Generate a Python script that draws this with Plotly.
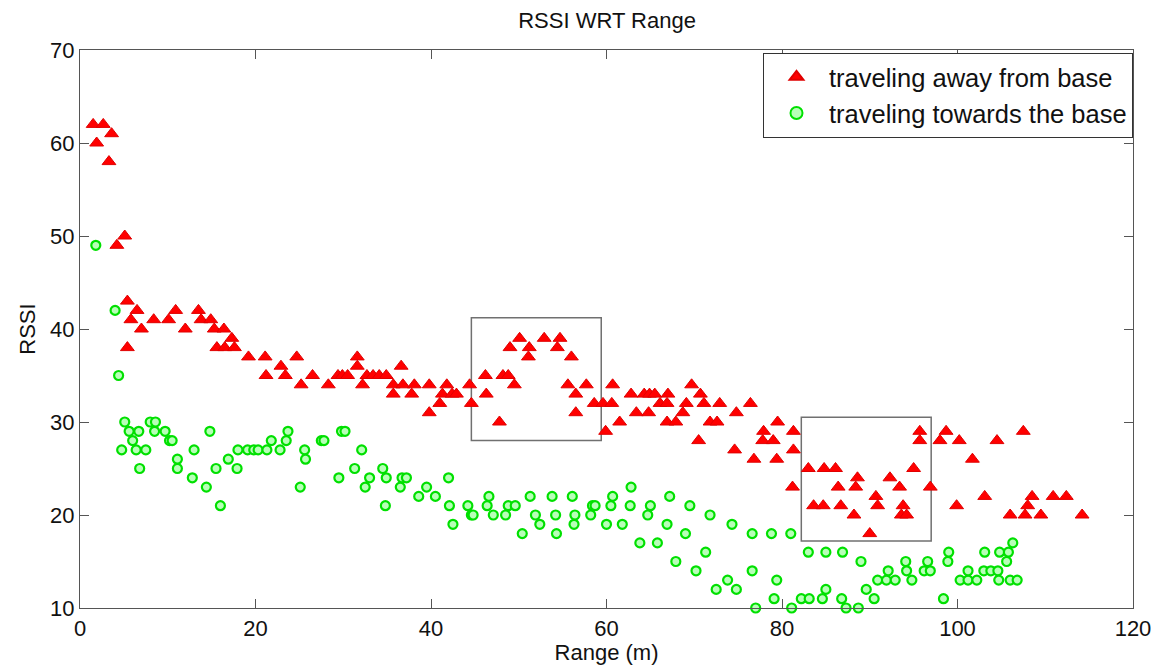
import plotly.graph_objects as go

# traveling away from base (red triangles)
away_x = [1.5, 2.65, 3.6, 1.9, 3.3, 5.1, 4.2, 5.4, 6.5, 5.8, 7.0, 8.4, 10.1, 10.9, 12.0, 13.5, 13.8, 14.9,
          15.3, 16.4, 17.3, 15.6, 16.5, 17.6, 5.4, 19.2, 21.1, 21.2, 22.9, 23.4, 24.7, 25.2, 26.5, 28.3,
          29.4, 29.9, 30.5, 31.6, 31.6, 32.2, 32.7, 33.4, 34.1, 34.9, 36.6, 35.7, 36.8, 35.7, 37.8, 38.1,
          39.8, 39.8, 41.0, 41.8, 41.3, 42.4, 42.9, 44.4, 44.6, 46.2, 46.3, 47.8, 48.2, 48.8, 49.5, 49.0,
          50.1, 51.2, 51.1, 52.9, 54.7, 54.4, 56.0, 55.6, 56.5, 57.7, 56.5, 58.6, 59.6, 60.6, 60.7, 59.9,
          61.5, 62.8, 63.4, 64.8, 64.3, 64.9, 65.5, 66.1, 67.0, 66.9, 69.7, 70.7, 69.1, 71.1, 72.9, 68.7,
          66.9, 67.9, 71.8, 72.6, 74.8, 76.4, 70.5, 74.6, 76.8, 79.5, 77.9, 81.3, 77.8, 79.0, 81.3, 79.4,
          83.0, 81.2, 84.8, 86.1, 88.6, 86.4, 88.4, 83.6, 84.7, 86.7, 88.2, 90.7, 90.9, 90.0, 92.3, 93.4,
          93.8, 93.6, 94.2, 95.0, 95.7, 95.7, 96.9, 98.0, 98.7, 100.2, 101.7, 99.9, 104.5, 107.5, 103.1,
          106.0, 107.7, 108.0, 108.5, 109.5, 110.9, 112.4, 114.2]
away_y = [62, 62, 61, 60, 58, 50, 49, 43, 42, 41, 40, 41, 41, 42, 40, 42, 41, 41,
          40, 40, 39, 38, 38, 38, 38, 37, 37, 35, 36, 35, 37, 34, 35, 34,
          35, 35, 35, 37, 36, 34, 35, 35, 35, 35, 36, 34, 34, 33, 33, 34,
          34, 31, 32, 34, 33, 33, 33, 34, 32, 35, 33, 30, 35, 35, 34, 38,
          39, 38, 37, 39, 39, 38, 37, 34, 33, 34, 31, 32, 32, 32, 34, 29,
          30, 33, 31, 31, 33, 33, 33, 32, 33, 32, 34, 33, 32, 32, 32, 31,
          30, 30, 30, 30, 31, 32, 28, 27, 26, 30, 29, 29, 28, 28, 27, 26,
          25, 23, 25, 25, 24, 23, 23, 21, 21, 21, 20, 22, 21, 18, 24, 23,
          21, 20, 20, 25, 29, 28, 23, 28, 29, 28, 26, 21, 28, 29, 22,
          20, 20, 21, 22, 20, 22, 22, 20]

# traveling towards the base (green circles)
towards_x = [1.8, 4.0, 4.4, 5.1, 5.6, 6.7, 6.0, 4.75, 6.4, 7.5, 6.8, 8.0, 8.6, 8.5, 9.7, 10.2, 10.5, 11.1,
             11.1, 13.0, 12.8, 14.4, 14.8, 16.0, 15.5, 16.9, 17.9, 18.0, 19.1, 19.8, 20.3, 21.3, 21.8, 22.8,
             23.7, 23.5, 25.6, 25.7, 25.1, 27.5, 27.8, 29.8, 30.2, 32.1, 29.5, 31.3, 33.0, 32.5, 34.5, 34.9,
             34.8, 36.5, 36.7, 37.2, 38.6, 39.5, 40.5, 42.0, 42.1, 42.5, 44.2, 44.6, 44.8, 46.4, 46.6, 47.1,
             48.5, 48.8, 49.6, 50.4, 51.3, 51.9, 52.4, 53.8, 54.2, 54.3, 56.1, 56.4, 56.3, 58.2, 58.4, 58.7,
             60.0, 60.5, 60.7, 61.8, 62.8, 62.7, 63.8, 64.7, 65.0, 65.8, 66.9, 67.2, 67.9, 69.0, 69.5, 70.2,
             71.3, 71.8, 72.5, 73.8, 74.3, 74.8, 76.6, 76.6, 77.0, 78.8, 79.1, 79.4, 81.0, 81.1, 82.2, 83.0,
             83.1, 84.6, 85.0, 85.0, 86.9, 86.8, 87.3, 88.7, 89.0, 89.6, 90.5, 90.9, 91.9, 92.9, 92.1, 94.1,
             94.2, 94.8, 96.2, 96.9, 96.6, 99.0, 98.9, 98.4, 100.3, 101.2, 102.2, 101.2, 103.1, 103.0, 103.8,
             104.6, 104.8, 105.8, 105.6, 106.3, 104.7, 106.0, 106.8]
towards_y = [49, 42, 35, 30, 29, 29, 28, 27, 27, 27, 25, 30, 30, 29, 29, 28, 28, 26,
             25, 27, 24, 23, 29, 21, 25, 26, 25, 27, 27, 27, 27, 27, 28, 27,
             29, 28, 27, 26, 23, 28, 28, 29, 29, 27, 24, 25, 24, 23, 25, 24,
             21, 23, 24, 24, 22, 23, 22, 24, 21, 19, 21, 20, 20, 21, 22, 20,
             20, 21, 21, 18, 22, 20, 19, 22, 20, 18, 22, 20, 19, 20, 21, 21,
             19, 21, 22, 19, 23, 21, 17, 20, 21, 17, 19, 22, 15, 18, 21, 14,
             16, 20, 12, 13, 19, 12, 18, 14, 10, 18, 11, 13, 18, 10, 11, 16,
             11, 11, 16, 12, 16, 11, 10, 10, 15, 12, 11, 13, 13, 13, 14, 15,
             14, 13, 14, 14, 15, 16, 15, 11, 13, 13, 13, 14, 16, 14, 14,
             14, 16, 16, 15, 17, 13, 13, 13]

x_ticks = [0, 20, 40, 60, 80, 100, 120]
y_ticks = [10, 20, 30, 40, 50, 60, 70]

FONT = "Liberation Sans, Arial, sans-serif"

fig = go.Figure()
fig.add_trace(go.Scatter(
    x=away_x, y=away_y, mode="markers", name="traveling away from base",
    marker=dict(symbol="triangle-up", size=12, color="#ff0000",
                line=dict(color="#e00000", width=1)),
    cliponaxis=False))
fig.add_trace(go.Scatter(
    x=towards_x, y=towards_y, mode="markers", name="traveling towards the base",
    marker=dict(symbol="circle", size=9, color="#b8ffb8",
                line=dict(color="#00e000", width=2.2)),
    cliponaxis=False))

# highlight boxes
box_style = dict(type="rect", xref="x", yref="y", line=dict(color="#707070", width=1.5),
                 fillcolor="rgba(0,0,0,0)", layer="below")
fig.add_shape(x0=44.6, x1=59.4, y0=28.0, y1=41.2, **box_style)
fig.add_shape(x0=82.2, x1=97.0, y0=17.2, y1=30.5, **box_style)

axis_common = dict(showgrid=False, zeroline=False, showline=True, linecolor="#555555",
                   linewidth=1.2, mirror="ticks", ticks="inside", ticklen=9,
                   tickcolor="#555555", tickfont=dict(family=FONT, size=22, color="#111111"))

fig.update_layout(
    width=1163, height=669,
    margin=dict(l=80, r=30, t=50, b=61),
    paper_bgcolor="white", plot_bgcolor="white",
    title=dict(text="RSSI WRT Range", x=0.522, xanchor="center", y=0.97, yanchor="middle",
               font=dict(family=FONT, size=22, color="#111111")),
    xaxis=dict(range=[0, 120], tickvals=x_ticks, title=dict(text="Range (m)", standoff=2,
               font=dict(family=FONT, size=22, color="#111111")), **axis_common),
    yaxis=dict(range=[10, 70], tickvals=y_ticks, title=dict(text="RSSI", standoff=8,
               font=dict(family=FONT, size=22, color="#111111")), **axis_common),
    legend=dict(x=1, y=0.995, xanchor="right", yanchor="top", bgcolor="white",
                bordercolor="#333333", borderwidth=1,
                font=dict(family=FONT, size=25.5, color="#111111"),
                itemsizing="constant", itemwidth=55, tracegroupgap=0),
    showlegend=True,
)

fig.write_html("out.html")
